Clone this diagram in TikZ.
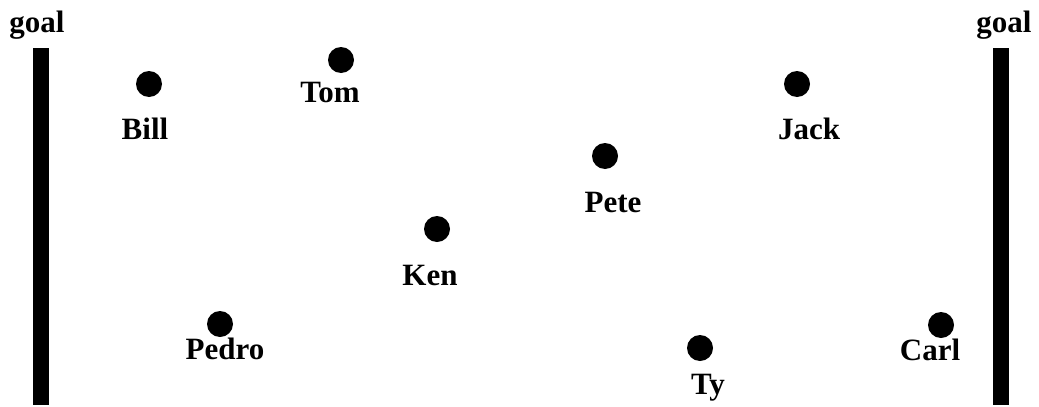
\documentclass[tikz,border=0pt]{standalone}
\usepackage{fontspec}
\setmainfont{Liberation Serif}
\begin{document}
\begin{tikzpicture}[x=1pt,y=-1pt,
  player/.style={circle,fill=black,inner sep=0pt,minimum size=26pt},
  plabel/.style={anchor=base,inner sep=0pt,font=\fontsize{31}{31}\selectfont\bfseries},
  goalbar/.style={fill=black}]
\useasboundingbox (0,0) rectangle (1039,407);
% goals
\fill[goalbar] (33,48) rectangle (49,405);
\fill[goalbar] (993,48) rectangle (1009,405);
\node[plabel] (goalL) at (37,32) {goal};
\node[plabel] (goalR) at (1004,32) {goal};
% players
\node[player] (bill)  at (149,84) {};
\node[player] (tom)   at (341,60) {};
\node[player] (jack)  at (797,84) {};
\node[player] (pete)  at (605,156) {};
\node[player] (ken)   at (437,229) {};
\node[player] (pedro) at (220,324) {};
\node[player] (ty)    at (700,348) {};
\node[player] (carl)  at (941,325) {};
% player names
\node[plabel] (billL)  at (145,139) {Bill};
\node[plabel] (tomL)   at (330,102) {Tom};
\node[plabel] (jackL)  at (809,139) {Jack};
\node[plabel] (peteL)  at (613,212) {Pete};
\node[plabel] (kenL)   at (430,285) {Ken};
\node[plabel] (pedroL) at (225,359) {Pedro};
\node[plabel] (tyL)    at (708,394) {Ty};
\node[plabel] (carlL)  at (930,360) {Carl};
\end{tikzpicture}
\end{document}
